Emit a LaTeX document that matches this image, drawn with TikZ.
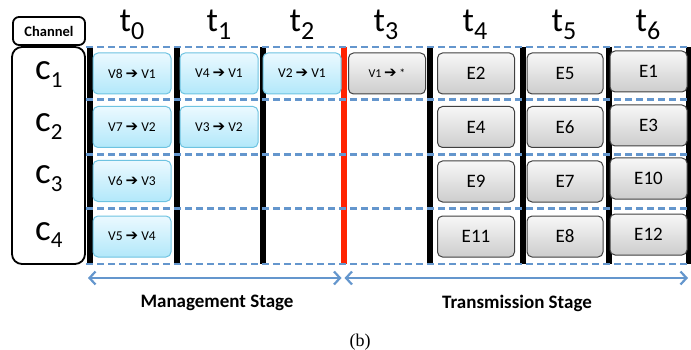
\documentclass[tikz,border=0pt]{standalone}
\usepackage{fontspec}
\setmainfont{Carlito}
\newfontfamily\dejavu{DejaVu Sans}
\newfontfamily\timesf{Liberation Serif}
\usetikzlibrary{arrows.meta}
\definecolor{dashblue}{RGB}{100,150,205}
\definecolor{cyanborder}{RGB}{110,195,225}
\definecolor{cyantop}{RGB}{235,249,255}
\definecolor{cyanbot}{RGB}{178,232,250}
\definecolor{graytop}{RGB}{247,247,247}
\definecolor{graybot}{RGB}{205,205,205}
\definecolor{redbar}{RGB}{255,35,0}
\newcommand{\rarr}{{\dejavu\fontsize{15}{15}\selectfont ➔}}
\newcommand{\bigt}[1]{{\fontsize{34}{34}\selectfont t\raisebox{-8pt}{\fontsize{26}{26}\selectfont #1}}}
\newcommand{\bigc}[1]{{\fontsize{37}{37}\selectfont c\raisebox{-8pt}{\fontsize{23}{23}\selectfont #1}}}
\tikzset{
  vbox/.style={rounded corners=5pt, draw=cyanborder, line width=1pt,
    top color=cyantop, bottom color=cyanbot, inner sep=0pt,
    minimum width=78pt, minimum height=41pt, font=\fontsize{13.5}{13.5}\selectfont},
  ebox/.style={rounded corners=5pt, draw=black!75, line width=1pt,
    top color=graytop, bottom color=graybot, inner sep=0pt,
    minimum width=77pt, minimum height=41pt, font=\fontsize{19}{19}\selectfont},
  bar/.style={line width=6pt, black},
  rowline/.style={dashblue, line width=2.2pt, dash pattern=on 7pt off 4pt},
  stagearrow/.style={dashblue, line width=2.2pt, {Straight Barb[length=6pt,width=13pt]}-{Straight Barb[length=6pt,width=13pt]}},
  lbl/.style={inner sep=0pt, anchor=base},
  stagelbl/.style={inner sep=0pt, font=\fontsize{19}{19}\selectfont\bfseries}
}
\begin{document}
\begin{tikzpicture}[x=1pt,y=-1pt]
\useasboundingbox (0,0) rectangle (691,350);
% channel column
\node[draw, line width=1.8pt, rounded corners=6pt, minimum width=72pt, minimum height=28pt, inner sep=0pt,
  font=\fontsize{14.5}{14.5}\selectfont\bfseries] (chan) at (49,31) {Channel};
\node[draw, line width=1.8pt, rounded corners=10pt, minimum width=73pt, minimum height=217pt, inner sep=0pt] (cbox) at (48.5,155.5) {};
\node[lbl, anchor=base west] (c1) at (35,80) {\bigc{1}};
\node[lbl, anchor=base west] (c2) at (35,132) {\bigc{2}};
\node[lbl, anchor=base west] (c3) at (35,183) {\bigc{3}};
\node[lbl, anchor=base west] (c4) at (35,240) {\bigc{4}};
% time labels
\node[lbl] (t0) at (132,32) {\bigt{0}};
\node[lbl] (t1) at (219,32) {\bigt{1}};
\node[lbl] (t2) at (302,32) {\bigt{2}};
\node[lbl] (t3) at (386,32) {\bigt{3}};
\node[lbl] (t4) at (475,32) {\bigt{4}};
\node[lbl] (t5) at (564,32) {\bigt{5}};
\node[lbl] (t6) at (648,32) {\bigt{6}};
% bars
\foreach \x in {89.5,177,262.5,430,522.5,608.5,689}
  \draw[bar] (\x,47) -- (\x,264);
\draw[bar, redbar] (343.5,47) -- (343.5,264);
% dashed row lines
\foreach \y in {47,99.5,154.5,208.5,264}
  \draw[rowline] (86,\y) -- (691,\y);
% management boxes
\node[vbox] (v81) at (132,73.5) {V8 \rarr{} V1};
\node[vbox] (v41) at (219,73.5) {V4 \rarr{} V1};
\node[vbox] (v21) at (302,73.5) {V2 \rarr{} V1};
\node[vbox] (v72) at (132,127) {V7 \rarr{} V2};
\node[vbox] (v32) at (219,127) {V3 \rarr{} V2};
\node[vbox] (v63) at (132,181) {V6 \rarr{} V3};
\node[vbox] (v54) at (132,236.5) {V5 \rarr{} V4};
% transmission boxes
\node[ebox, font=\fontsize{12}{12}\selectfont] (v1s) at (387,73.5) {V1 \rarr{} *};
\node[ebox] (e2) at (476,73.5) {E2};
\node[ebox, minimum width=76pt] (e5) at (565,73.5) {E5};
\node[ebox] (e1) at (648.5,71.5) {E1};
\node[ebox] (e4) at (476,127) {E4};
\node[ebox, minimum width=76pt] (e6) at (565,127) {E6};
\node[ebox] (e3) at (648.5,125.5) {E3};
\node[ebox] (e9) at (476,181.5) {E9};
\node[ebox, minimum width=76pt] (e7) at (565,181.5) {E7};
\node[ebox] (e10) at (648.5,178.5) {E10};
\node[ebox] (e11) at (476,236.5) {E11};
\node[ebox, minimum width=76pt] (e8) at (565,236.5) {E8};
\node[ebox] (e12) at (648.5,234.5) {E12};
% stage arrows
\coordinate (ms) at (88,278);
\coordinate (me) at (341.5,278);
\coordinate (ts) at (344.5,278);
\coordinate (te) at (688,278);
\draw[stagearrow] (ms) -- (me);
\draw[stagearrow] (ts) -- (te);
\node[stagelbl] (mlbl) at (217,303) {Management Stage};
\node[stagelbl] (tlbl) at (517,303) {Transmission Stage};
\node[inner sep=0pt, font=\timesf\fontsize{18}{18}\selectfont] (cap) at (360,342) {(b)};
\end{tikzpicture}
\end{document}
